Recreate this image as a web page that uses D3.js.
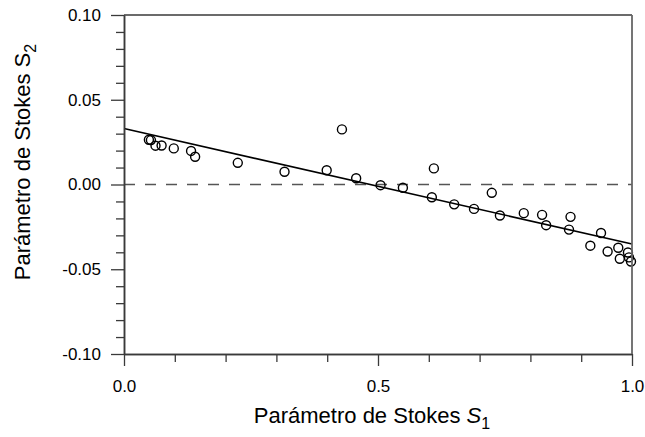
<!DOCTYPE html>
<html>
<head>
<meta charset="utf-8">
<script src="https://cdn.jsdelivr.net/npm/d3@7"></script>
<style>
  html, body { margin: 0; padding: 0; background: #fff; }
  svg { display: block; font-family: "Liberation Sans", Arial, sans-serif; }
</style>
</head>
<body>
<svg id="chart" width="645" height="437"></svg>
<script>
// Measured Stokes parameters (S1, S2)
const s1Values = [0.049, 0.053, 0.062, 0.074, 0.098, 0.132, 0.140, 0.224, 0.316, 0.399,
                  0.429, 0.457, 0.505, 0.549, 0.610, 0.606, 0.650, 0.689, 0.724, 0.740,
                  0.787, 0.823, 0.831, 0.879, 0.876, 0.939, 0.918, 0.952, 0.973, 0.976,
                  0.992, 0.994, 0.998];
const s2Values = [0.0264, 0.0262, 0.0229, 0.0230, 0.0213, 0.0198, 0.0164, 0.0128, 0.0075, 0.0084,
                  0.0325, 0.0037, -0.0004, -0.0019, 0.0095, -0.0075, -0.0117, -0.0144, -0.0049, -0.0183,
                  -0.0169, -0.0179, -0.0240, -0.0191, -0.0266, -0.0286, -0.0361, -0.0395, -0.0373, -0.0438,
                  -0.0401, -0.0430, -0.0454];

// Linear fit end points
const fitS1 = [0.0, 1.0];
const fitS2 = [0.033, -0.0351];

// Axis ticks
const xMajorTicks = [0.0, 0.5, 1.0];
const xMinorTicks = [0.1, 0.2, 0.3, 0.4, 0.6, 0.7, 0.8, 0.9];
const yMajorTicks = [-0.10, -0.05, 0.00, 0.05, 0.10];
const yMinorTicks = [-0.09, -0.08, -0.07, -0.06, -0.04, -0.03, -0.02, -0.01,
                     0.01, 0.02, 0.03, 0.04, 0.06, 0.07, 0.08, 0.09];

const svg = d3.select("#chart");
const plotLeft = 124, plotRight = 632, plotTop = 15, plotBottom = 354;

const x = d3.scaleLinear().domain([0, 1]).range([plotLeft, plotRight]);
const y = d3.scaleLinear().domain([-0.1, 0.1]).range([plotBottom, plotTop]);

const axisColor = "#3a3a3a";

// zero reference line
svg.append("line")
  .attr("x1", x(0)).attr("x2", x(1))
  .attr("y1", y(0)).attr("y2", y(0))
  .attr("stroke", "#555").attr("stroke-width", 1.5)
  .attr("stroke-dasharray", "11,10");

// fit line
const fitData = fitS1.map((v, i) => [v, fitS2[i]]);
svg.append("path")
  .datum(fitData)
  .attr("fill", "none")
  .attr("stroke", "#000")
  .attr("stroke-width", 1.6)
  .attr("d", d3.line().x(d => x(d[0])).y(d => y(d[1])));

// data points
const pts = s1Values.map((v, i) => [v, s2Values[i]]);
svg.append("g").selectAll("circle")
  .data(pts).join("circle")
  .attr("cx", d => x(d[0])).attr("cy", d => y(d[1]))
  .attr("r", 4.5)
  .attr("fill", "none")
  .attr("stroke", "#000")
  .attr("stroke-width", 1.4);

function styleAxis(g) {
  g.select(".domain").attr("stroke", axisColor).attr("stroke-width", 1.5);
  g.selectAll(".tick line").attr("stroke", axisColor).attr("stroke-width", 1.3);
  g.selectAll(".tick text").attr("fill", "#000").style("font-size", "17px")
    .style("font-family", "'Liberation Sans', Arial, sans-serif");
}

// bottom axis: minor then major
svg.append("g").attr("transform", `translate(0,${plotBottom})`)
  .call(d3.axisBottom(x).tickValues(xMinorTicks).tickSize(8).tickFormat("").tickSizeOuter(0))
  .call(styleAxis);
svg.append("g").attr("transform", `translate(0,${plotBottom})`)
  .call(d3.axisBottom(x).tickValues(xMajorTicks).tickSize(12).tickPadding(14)
        .tickFormat(d3.format(".1f")).tickSizeOuter(0))
  .call(styleAxis);

// left axis
svg.append("g").attr("transform", `translate(${plotLeft},0)`)
  .call(d3.axisLeft(y).tickValues(yMinorTicks).tickSize(8).tickFormat("").tickSizeOuter(0))
  .call(styleAxis);
svg.append("g").attr("transform", `translate(${plotLeft},0)`)
  .call(d3.axisLeft(y).tickValues(yMajorTicks).tickSize(13).tickPadding(10)
        .tickFormat(d => d3.format(".2f")(d).replace("−", "-")).tickSizeOuter(0))
  .call(styleAxis);

// frame top and right
svg.append("line").attr("x1", plotLeft).attr("x2", plotRight).attr("y1", plotTop).attr("y2", plotTop)
  .attr("stroke", axisColor).attr("stroke-width", 1.5);
svg.append("line").attr("x1", plotRight).attr("x2", plotRight).attr("y1", plotTop).attr("y2", plotBottom)
  .attr("stroke", "#666").attr("stroke-width", 1.8);

// axis titles
const xt = svg.append("text")
  .attr("x", 372).attr("y", 423)
  .attr("text-anchor", "middle")
  .style("font-size", "22px").attr("fill", "#000");
xt.append("tspan").text("Parámetro de Stokes ");
xt.append("tspan").style("font-style", "italic").text("S");
xt.append("tspan").attr("dy", 6).style("font-size", "16px").text("1");

const yt = svg.append("text")
  .attr("transform", "translate(30,162) rotate(-90)")
  .attr("text-anchor", "middle")
  .style("font-size", "22px").attr("fill", "#000");
yt.append("tspan").text("Parámetro de Stokes S");
yt.append("tspan").attr("dy", 6).style("font-size", "16px").text("2");
</script>
</body>
</html>
